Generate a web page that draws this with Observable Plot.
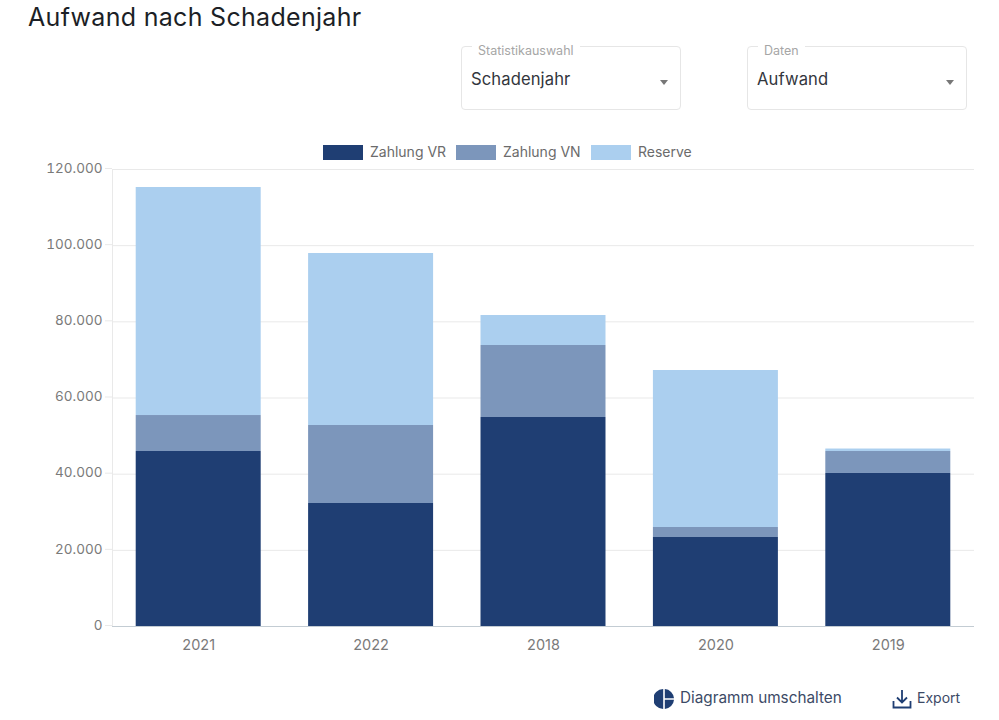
<!DOCTYPE html>
<html lang="de">
<head>
<meta charset="utf-8">
<script src="https://cdn.jsdelivr.net/npm/d3@7"></script>
<script src="https://cdn.jsdelivr.net/npm/@observablehq/plot@0.6"></script>
<style>
  html, body { margin: 0; padding: 0; background: #fff; }
  body { position: relative; width: 999px; height: 720px; overflow: hidden; font-family: Inter, Lato, sans-serif; }
  .abs { position: absolute; white-space: nowrap; }
  #title { left: 28px; top: 2px; font-size: 25px; line-height: 30px; color: #1c1f26; letter-spacing: .3px; }
  .select { position: absolute; top: 46px; width: 218px; height: 62px; border: 1px solid #e6e6e6; border-radius: 4px; box-sizing: content-box; }
  .select .lab { position: absolute; top: -3px; left: 10px; padding: 0 6px; background: #fff; font-size: 12.5px; line-height: 13px; color: #a6a6a6; }
  .select .val { position: absolute; left: 9px; top: 22px; font-size: 16.6px; line-height: 20px; letter-spacing: .1px; color: #33363d; }
  .select .arrow { position: absolute; right: 12px; top: 33px; width: 0; height: 0; border-left: 4.5px solid transparent; border-right: 4.5px solid transparent; border-top: 5px solid #777; }
  #legend { left: 0; top: 143px; width: 999px; height: 20px; }
  #legend .sw { position: absolute; top: 2px; height: 15px; width: 40px; }
  #legend .tx { position: absolute; top: 0; font-size: 14px; line-height: 18px; color: #6b6b6b; }
  #chart { position: absolute; left: 0; top: 160px; }
  #chart svg { display: block; }
  .act { line-height: 18px; color: #3c4a66; }
</style>
</head>
<body>
<div id="title" class="abs">Aufwand nach Schadenjahr</div>

<div class="select" style="left:461px"><span class="lab">Statistikauswahl</span><span class="val">Schadenjahr</span><span class="arrow"></span></div>
<div class="select" style="left:747px"><span class="lab">Daten</span><span class="val">Aufwand</span><span class="arrow"></span></div>

<div id="legend" class="abs"></div>
<div id="chart"></div>

<svg class="abs" style="left:654px;top:689px" width="20" height="20" viewBox="0 0 20 20">
  <path d="M9.2 0 A10 10 0 0 0 9.2 20 Z" fill="#1f3e73"/>
  <path d="M10.8 0 A10 10 0 0 1 20 9.2 L10.8 9.2 Z" fill="#1f3e73"/>
  <path d="M10.8 10.8 L20 10.8 A10 10 0 0 1 10.8 20 Z" fill="#1f3e73"/>
</svg>
<div class="abs act" style="left:680px;top:689px;font-size:15.3px">Diagramm umschalten</div>
<svg class="abs" style="left:892px;top:689px" width="20" height="20" viewBox="0 0 20 20" fill="none" stroke="#1f3e73" stroke-width="1.8">
  <path d="M10 1 V13 M5 8.5 L10 13.5 L15 8.5"/>
  <path d="M1.5 12 V18.5 H18.5 V12"/>
</svg>
<div class="abs act" style="left:917px;top:689px;font-size:14px">Export</div>

<script>
const years = ["2021", "2022", "2018", "2020", "2019"];
const seriesNames = ["Zahlung VR", "Zahlung VN", "Reserve"];
const zahlungVR = [45950, 32300, 54880, 23370, 40180];
const zahlungVN = [9450, 20480, 18910, 2630, 5770];
const reserve = [59870, 45160, 7870, 41220, 650];
const seriesColors = ["#1f3e73", "#7c96bb", "#abcfef"];
const yTicks = [0, 20000, 40000, 60000, 80000, 100000, 120000];

const rows = [];
[zahlungVR, zahlungVN, reserve].forEach((values, s) => {
  years.forEach((year, i) => rows.push({year, series: seriesNames[s], value: values[i]}));
});

const fmt = v => d3.format(",")(v).replace(/,/g, ".");

const plot = Plot.plot({
  width: 999,
  height: 490,
  marginTop: 9,
  marginBottom: 24,
  marginLeft: 112,
  marginRight: 25,
  style: {fontFamily: "Inter, Lato, sans-serif", background: "transparent", overflow: "visible"},
  x: {domain: years, round: false, paddingInner: 0.275, paddingOuter: 0.1375, label: null, tickSize: 0},
  y: {domain: [0, 120000], label: null},
  color: {domain: seriesNames, range: seriesColors},
  marks: [
    Plot.ruleY(yTicks, {stroke: "#e9e9e9", strokeWidth: 1}),
    Plot.frame({anchor: "left", stroke: "#e9e9e9"}),
    Plot.barY(rows, Plot.stackY({order: seriesNames}, {x: "year", y: "value", fill: "series"})),
    Plot.ruleY([0], {stroke: "#c3ccd3", strokeWidth: 1}),
    Plot.axisY({ticks: yTicks, tickFormat: fmt, tickSize: 7, tickPadding: 3, stroke: "#e9e9e9", color: "#7a7a7a", fontSize: 13.5, dy: -1, label: null}),
    Plot.axisX({tickSize: 0, tickPadding: 13, color: "#7a7a7a", fontSize: 14.5, label: null})
  ]
});
document.getElementById("chart").appendChild(plot);

// Legend
const legend = document.getElementById("legend");
const swX = [323, 456, 591], txX = [370, 503, 638];
seriesNames.forEach((name, i) => {
  const sw = document.createElement("span");
  sw.className = "sw"; sw.style.left = swX[i] + "px"; sw.style.background = seriesColors[i];
  const tx = document.createElement("span");
  tx.className = "tx"; tx.style.left = txX[i] + "px"; tx.textContent = name;
  legend.append(sw, tx);
});
</script>
</body>
</html>
